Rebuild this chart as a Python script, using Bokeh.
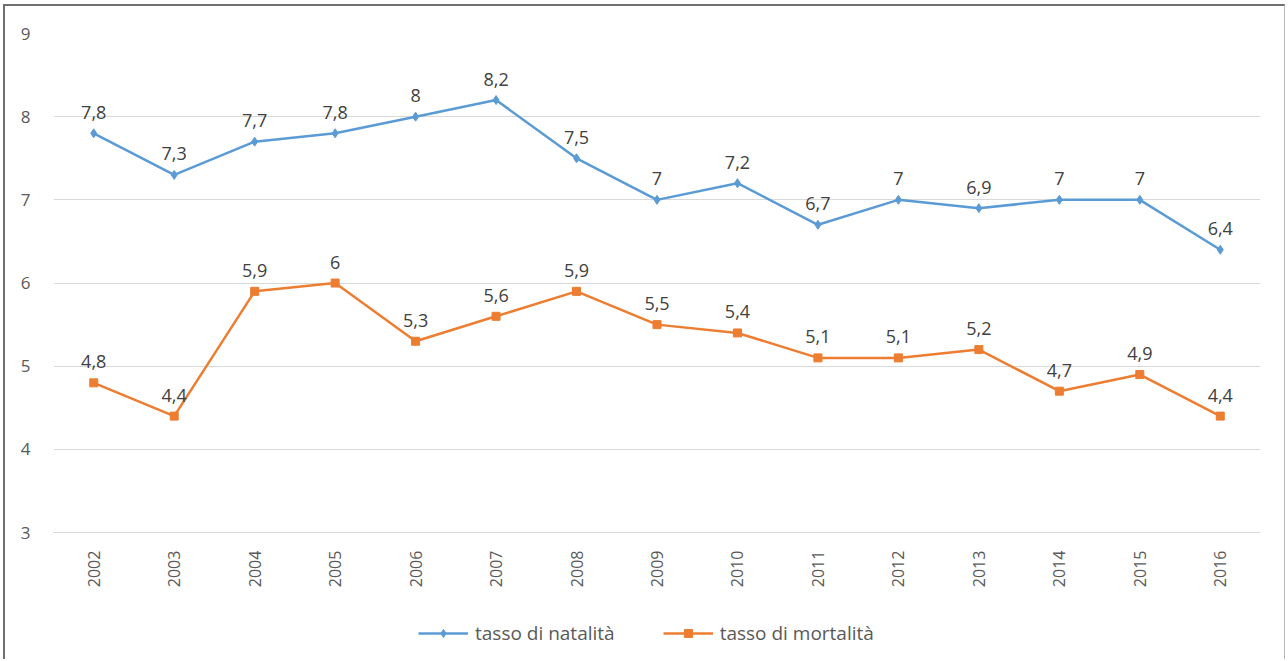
from bokeh.plotting import figure
from bokeh.models import ColumnDataSource, FixedTicker, Legend, LegendItem
from bokeh.embed import file_html
from bokeh.resources import INLINE
from bokeh.core.properties import value

years = ["2002", "2003", "2004", "2005", "2006", "2007", "2008", "2009",
         "2010", "2011", "2012", "2013", "2014", "2015", "2016"]
natalita = [7.8, 7.3, 7.7, 7.8, 8.0, 8.2, 7.5, 7.0, 7.2, 6.7, 7.0, 6.9, 7.0, 7.0, 6.4]
mortalita = [4.8, 4.4, 5.9, 6.0, 5.3, 5.6, 5.9, 5.5, 5.4, 5.1, 5.1, 5.2, 4.7, 4.9, 4.4]
y_ticks = [3, 4, 5, 6, 7, 8, 9]
series_names = ["tasso di natalità", "tasso di mortalità"]


def fmt(v):
    s = ("%.1f" % v)
    if s.endswith(".0"):
        s = s[:-2]
    return s.replace(".", ",")


FONT = "Open Sans"
BLUE = "#5B9BD5"
ORANGE = "#ED7D31"

p = figure(x_range=years, y_range=(1.45, 9), width=1282, height=655,
           output_backend="svg", toolbar_location=None,
           min_border_left=48, min_border_right=27, min_border_top=27,
           min_border_bottom=0)
p.outline_line_color = None
p.background_fill_color = "white"
p.border_fill_color = "white"
p.styles = {"border-left": "2px solid #707070", "border-top": "2px solid #707070",
            "border-right": "1px solid #b8b8b8", "margin-left": "3px",
            "margin-top": "4px"}

p.xgrid.grid_line_color = None
p.ygrid.grid_line_color = "#d9d9d9"
p.ygrid.grid_line_width = 1

p.yaxis.ticker = FixedTicker(ticks=y_ticks)
p.yaxis.axis_line_color = None
p.yaxis.major_tick_line_color = None
p.yaxis.minor_tick_line_color = None
p.yaxis.major_label_text_font = FONT
p.yaxis.major_label_text_font_size = "17px"
p.yaxis.major_label_text_color = "#595959"
p.yaxis.major_label_standoff = 17

p.xaxis.fixed_location = 3
p.xaxis.axis_line_color = "#d9d9d9"
p.xaxis.major_tick_line_color = None
p.xaxis.minor_tick_line_color = None
p.xaxis.major_label_orientation = 1.5708
p.xaxis.major_label_text_font = FONT
p.xaxis.major_label_text_font_size = "16px"
p.xaxis.major_label_text_color = "#595959"
p.xaxis.major_label_standoff = 12

src_n = ColumnDataSource(dict(x=years, y=natalita, t=[fmt(v) for v in natalita]))
src_m = ColumnDataSource(dict(x=years, y=mortalita, t=[fmt(v) for v in mortalita]))

ln = p.line("x", "y", source=src_n, line_color=BLUE, line_width=2.5)
mn = p.scatter("x", "y", source=src_n, marker="diamond", size=9,
               fill_color=BLUE, line_color=BLUE)
lm = p.line("x", "y", source=src_m, line_color=ORANGE, line_width=2.5)
mm = p.scatter("x", "y", source=src_m, marker="square", size=8,
               fill_color=ORANGE, line_color=ORANGE)

for src in (src_n, src_m):
    p.text("x", "y", text="t", source=src, text_align="center",
           text_baseline="alphabetic", y_offset=-21,
           text_font=value(FONT), text_font_size="18px", text_color="#404040")

legend = Legend(items=[LegendItem(label=series_names[0], renderers=[ln, mn]),
                       LegendItem(label=series_names[1], renderers=[lm, mm])],
                orientation="horizontal", location=(365, 15),
                border_line_color=None, background_fill_alpha=0,
                label_text_font=FONT, label_text_font_size="19px",
                label_text_color="#595959", glyph_width=50, spacing=48,
                label_standoff=7, margin=0, padding=4)
p.add_layout(legend, "center")

open("out.html", "w").write(file_html(p, INLINE))
